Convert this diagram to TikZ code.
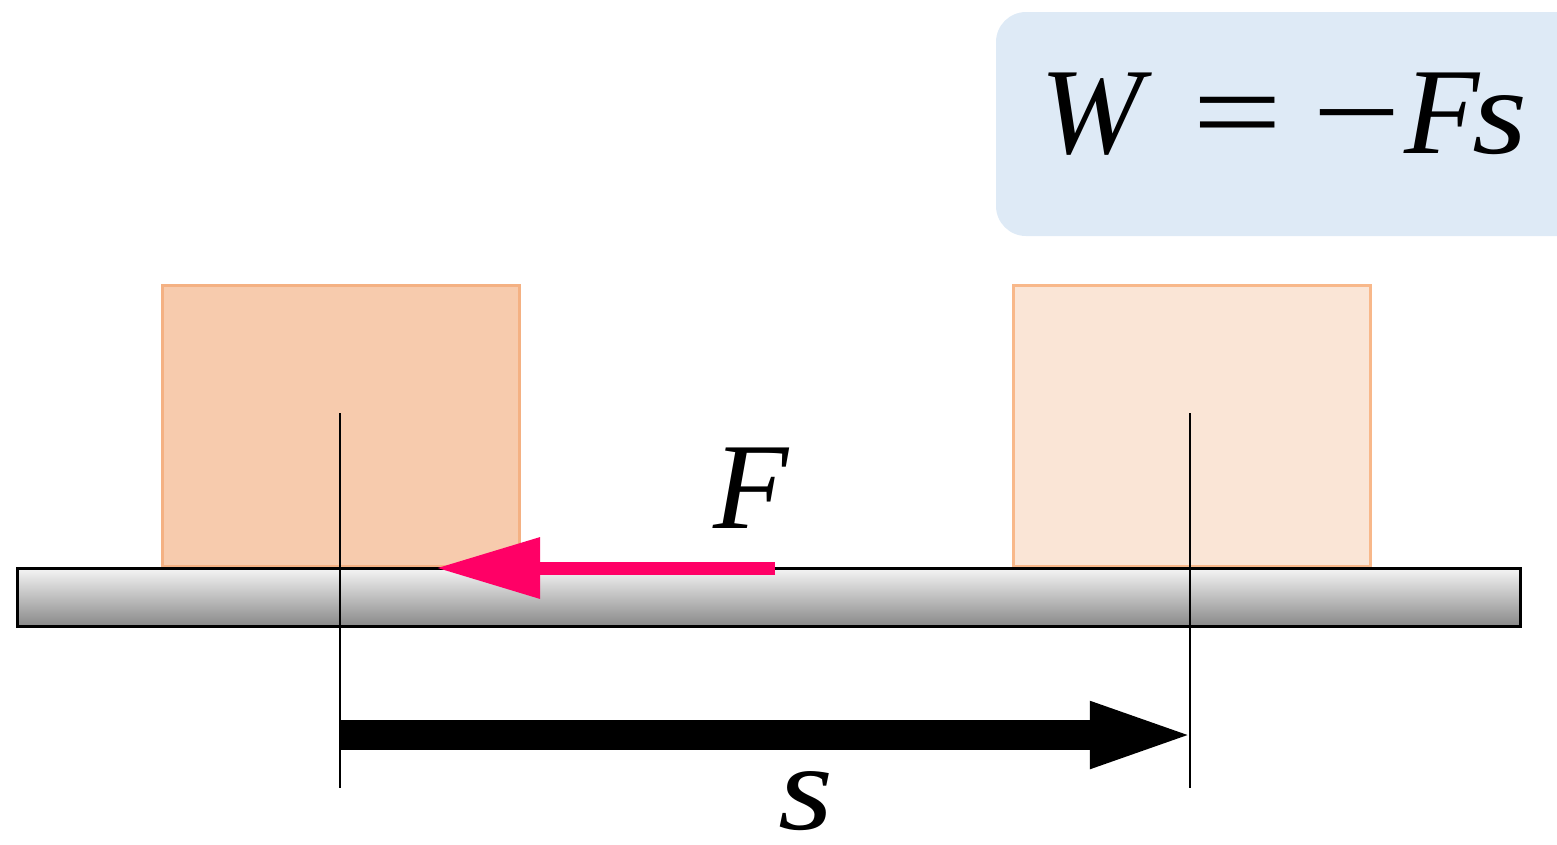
\documentclass[tikz,border=0pt]{standalone}
\usepackage{fontspec}
\setmainfont{Liberation Serif}
\newfontfamily\timesit{Liberation Serif Italic}
\usetikzlibrary{arrows.meta}
\definecolor{boxblue}{HTML}{DEEAF6}
\definecolor{blockA}{HTML}{F7CBAD}
\definecolor{blockAline}{HTML}{F4B183}
\definecolor{blockB}{HTML}{FAE5D6}
\definecolor{blockBline}{HTML}{F8B88A}
\definecolor{forcepink}{HTML}{FF0066}
\definecolor{bartop}{HTML}{F4F4F4}
\definecolor{barbot}{HTML}{888888}
\tikzset{
  px/.style={x=0.01cm,y=-0.01cm},
  bigtext/.style={font=\fontsize{35}{40}\selectfont\timesit, inner sep=0pt},
  marker/.style={line width=0.02cm, black},
  blockstyle/.style={line width=0.025cm},
}
\begin{document}
\begin{tikzpicture}[px]
\useasboundingbox (0,0) rectangle (1557,844);
% formula box
\fill[boxblue, rounded corners=0.3cm] (996,12) rectangle (1600,236);
\node[bigtext, anchor=base west] (formula) at (1040,153)
  {W\hspace{0.4em}{\rmfamily\upshape\scalebox{1.3}[1]{=}}\hspace{0.24em}{\rmfamily\upshape\scalebox{1.28}[1]{−}}\kern0.03em F\kern-0.06em\scalebox{1.15}[1]{s}};
% blocks
\node[blockstyle, draw=blockAline, fill=blockA, minimum width=3.57cm, minimum height=2.81cm, anchor=north west, inner sep=0pt] (blockL) at (161,284) {};
\node[blockstyle, draw=blockBline, fill=blockB, minimum width=3.57cm, minimum height=2.81cm, anchor=north west, inner sep=0pt] (blockR) at (1012,284) {};
% ground bar
\node[draw=black, line width=0.03cm, top color=bartop, bottom color=barbot, minimum width=15.02cm, minimum height=0.58cm, anchor=north west, inner sep=0pt] (ground) at (16,567) {};
% vertical markers
\coordinate (l1) at (340,413); \coordinate (l2) at (340,788);
\coordinate (r1) at (1190,413); \coordinate (r2) at (1190,788);
\draw[marker] (l1) -- (l2);
\draw[marker] (r1) -- (r2);
% displacement arrow
\coordinate (s1) at (340,735); \coordinate (s2) at (1200,735);
\draw[line width=0.30cm, -{Triangle[length=1.1cm,width=0.58cm]}] (s1) -- (s2);
\node[bigtext, anchor=base] (slabel) at (806,829) {\scalebox{1.15}[1]{s}};
% force arrow
\coordinate (f1) at (775,568); \coordinate (f2) at (436,568);
\draw[forcepink, line width=0.13cm, -{Triangle[length=1.04cm,width=0.58cm]}] (f1) -- (f2);
\node[bigtext, anchor=base] (flabel) at (751,528) {F};
\end{tikzpicture}
\end{document}
